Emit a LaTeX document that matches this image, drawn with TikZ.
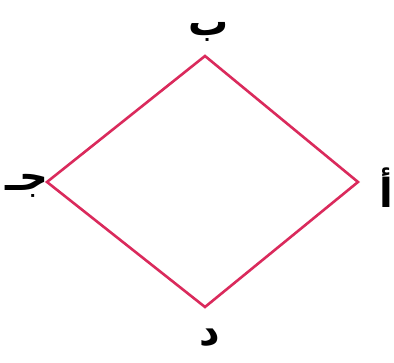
\documentclass[tikz,border=0pt]{standalone}
\usepackage{fontspec}
\TeXXeTstate=1
\newfontfamily\arabicfont[Script=Arabic]{DejaVu Sans}
\definecolor{rh}{RGB}{218,42,92}
\tikzset{lbl/.style={font=\arabicfont\bfseries\fontsize{40}{44}\selectfont, inner sep=0pt}}
\begin{document}
\begin{tikzpicture}[x=1pt,y=-1pt]
\useasboundingbox (0,0) rectangle (394,363);
\coordinate (B) at (205,56);
\coordinate (A) at (358,182);
\coordinate (D) at (205,307);
\coordinate (J) at (47,182);
\draw[rh, line width=2.6pt, line join=miter] (B) -- (A) -- (D) -- (J) -- cycle;
\node[lbl] (lb) at (209,32) {\beginR ب\endR};
\node[lbl] (la) at (386,188) {\beginR أ\endR};
\node[lbl] (ld) at (210,338) {\beginR د\endR};
\node[lbl] (lj) at (27,186) {\beginR جـ\endR};
\end{tikzpicture}
\end{document}
